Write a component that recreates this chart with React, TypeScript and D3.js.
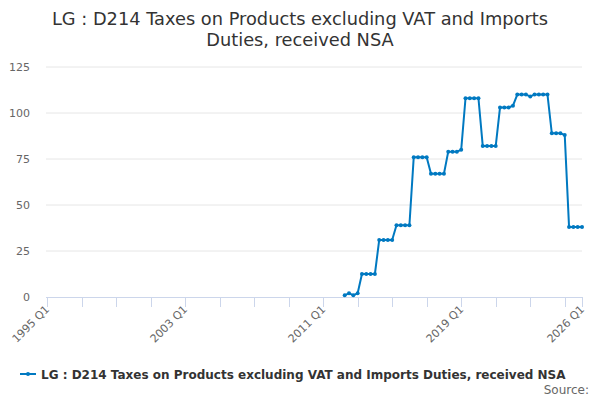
import { useMemo } from 'react';
import * as d3 from 'd3';

const title = ['LG : D214 Taxes on Products excluding VAT and Imports', 'Duties, received NSA'];
const seriesName = 'LG : D214 Taxes on Products excluding VAT and Imports Duties, received NSA';

const firstYear = 1995;
const lastYear = 2026;
// every quarter from 1995 Q1 to 2026 Q1
const categories: string[] = [];
for (let y = firstYear; y <= lastYear; y++) {
  for (let q = 1; q <= 4; q++) {
    if (y === lastYear && q > 1) break;
    categories.push(`${y} Q${q}`);
  }
}

const dataStart = '2012 Q2';
const values = [
  1, 2, 1, 2,
  12.5, 12.5, 12.5, 12.5,
  31, 31, 31, 31,
  39, 39, 39, 39,
  76, 76, 76, 76,
  67, 67, 67, 67,
  79, 79, 79, 80,
  108, 108, 108, 108,
  82, 82, 82, 82,
  103, 103, 103, 104,
  110, 110, 110, 109,
  110, 110, 110, 110,
  89, 89, 89, 88,
  38, 38, 38, 38,
];

const yTicks = [0, 25, 50, 75, 100, 125];
const labelledCats = ['1995 Q1', '2003 Q1', '2011 Q1', '2019 Q1', '2026 Q1'];

const font = '"DejaVu Sans", sans-serif';
const lineColor = '#0079c1';

const App = () => {
  const width = 600;
  const height = 400;
  const margin = { top: 67, right: 18, bottom: 103, left: 47 };

  const x = useMemo(() => d3.scalePoint<string>()
    .domain(categories)
    .range([margin.left, width - margin.right]), []);

  const y = useMemo(() => d3.scaleLinear()
    .domain([0, 125])
    .range([height - margin.bottom, margin.top]), []);

  const startIdx = categories.indexOf(dataStart);
  const points = values.map((v, i) => ({ cat: categories[startIdx + i], value: v }));

  const line = d3.line<{ cat: string; value: number }>()
    .x(d => x(d.cat) as number)
    .y(d => y(d.value));

  // tick marks every 8 quarters, plus the final category
  const tickCats = categories.filter((_, i) => i % 8 === 0);
  tickCats.push(categories[categories.length - 1]);

  const y0 = y(0);

  return (
    <svg width={width} height={height} style={{ position: 'absolute', left: 0, top: 0, fontFamily: font }}>
      <rect width={width} height={height} fill="#ffffff" />

      {title.map((t, i) => (
        <text key={i} x={width / 2} y={25 + i * 21} textAnchor="middle" fontSize={17.8} fill="#333333">{t}</text>
      ))}

      {yTicks.map(t => (
        <g key={t}>
          {t > 0 && <line x1={46} x2={width - margin.right} y1={y(t)} y2={y(t)} stroke="#e6e6e6" strokeWidth={1} />}
          <text x={30} y={y(t) + 4} textAnchor="end" fontSize={11} fill="#666666">{t}</text>
        </g>
      ))}

      <line x1={46} x2={width - margin.right} y1={y0 + 0.5} y2={y0 + 0.5} stroke="#ccd6eb" strokeWidth={1} />
      {tickCats.map(c => (
        <line key={c} x1={Math.round(x(c) as number) + 0.5} x2={Math.round(x(c) as number) + 0.5}
          y1={y0} y2={y0 + 10} stroke="#ccd6eb" strokeWidth={1} />
      ))}
      {labelledCats.map(c => (
        <text key={c} transform={`translate(${(x(c) as number) + 3},${y0 + 13}) rotate(-45)`}
          textAnchor="end" fontSize={11} fill="#666666">{c}</text>
      ))}

      <path d={line(points) || ''} fill="none" stroke={lineColor} strokeWidth={2} strokeLinejoin="round" />
      {points.map((p, i) => (
        <circle key={i} cx={x(p.cat)} cy={y(p.value)} r={2} fill={lineColor} />
      ))}

      <g transform="translate(20,374)">
        <line x1={0} x2={16} y1={0} y2={0} stroke={lineColor} strokeWidth={2} />
        <circle cx={8} cy={0} r={2} fill={lineColor} />
        <text x={21} y={4.5} fontSize={12} fontWeight="bold" fill="#333333">{seriesName}</text>
      </g>

      <text x={589} y={394} textAnchor="end" fontSize={12} fill="#666666">Source:</text>
    </svg>
  );
};

export default App;
